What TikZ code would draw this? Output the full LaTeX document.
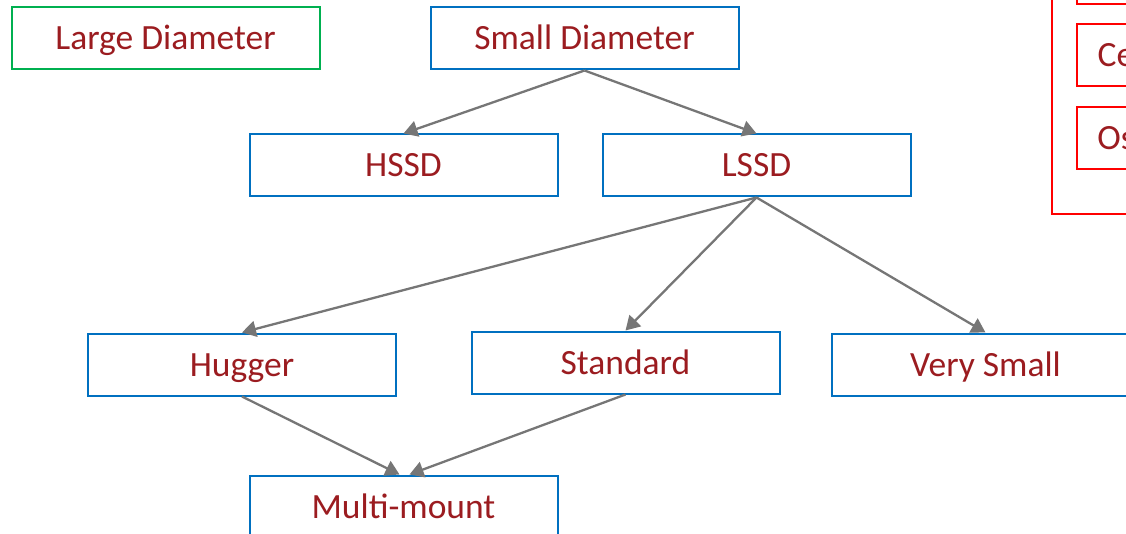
\documentclass[tikz,border=0pt]{standalone}
\usepackage{fontspec}
\setmainfont{Carlito}
\usetikzlibrary{arrows.meta}
\definecolor{txtred}{RGB}{155,28,32}
\definecolor{boxblue}{RGB}{0,112,192}
\definecolor{boxgreen}{RGB}{0,176,80}
\definecolor{boxred}{RGB}{255,0,0}
\definecolor{arrgray}{RGB}{118,118,118}
\tikzset{
  card/.style={draw=boxblue, line width=2pt, minimum width=308pt, minimum height=62pt,
    inner sep=0pt, text=txtred, font=\fontsize{35.5}{40}\selectfont,
    text height=27pt, text depth=4pt},
  greencard/.style={card, draw=boxgreen},
  redcard/.style={card, draw=boxred},
  link/.style={draw=arrgray, line width=2.3pt, -{Triangle[length=14pt,width=16pt]}},
}
\begin{document}
\begin{tikzpicture}[x=1pt,y=-1pt]
\useasboundingbox (0,0) rectangle (1126,534);
\clip (0,0) rectangle (1126,534);
\node[greencard] (large) at (165.5,38.5) {Large Diameter};
\node[card] (small) at (584.5,38.5) {Small Diameter};
\node[card] (hssd) at (403.5,165.5) {HSSD};
\node[card] (lssd) at (756.5,165.5) {LSSD};
\node[card] (hugger) at (242,364.5) {Hugger};
\node[card] (standard) at (625.5,362.5) {Standard};
\node[card] (vsmall) at (985.5,364.5) {Very Small};
\node[card] (multi) at (403.5,506.5) {Multi-mount};
% red group on the right
\draw[draw=boxred, line width=2pt] (1052,-20) rectangle (1200,214);
\node[redcard, anchor=north west] (red1) at (1076,-59) {};
\node[redcard, anchor=west] (ce) at (1076,55.5) {\hspace*{20pt}Ce\hspace*{250pt}};
\node[redcard, anchor=west] (os) at (1076,138.5) {\hspace*{20pt}Os\hspace*{250pt}};
% connectors
\draw[link] (small.south) -- (hssd.north);
\draw[link] (small.south) -- (lssd.north);
\draw[link] (lssd.south) -- (hugger.north);
\draw[link] (lssd.south) -- (standard.north);
\draw[link] (lssd.south) -- (vsmall.north);
\draw[link] (hugger.south) -- ([xshift=-4pt]multi.north);
\draw[link] (standard.south) -- ([xshift=6pt]multi.north);
\end{tikzpicture}
\end{document}
